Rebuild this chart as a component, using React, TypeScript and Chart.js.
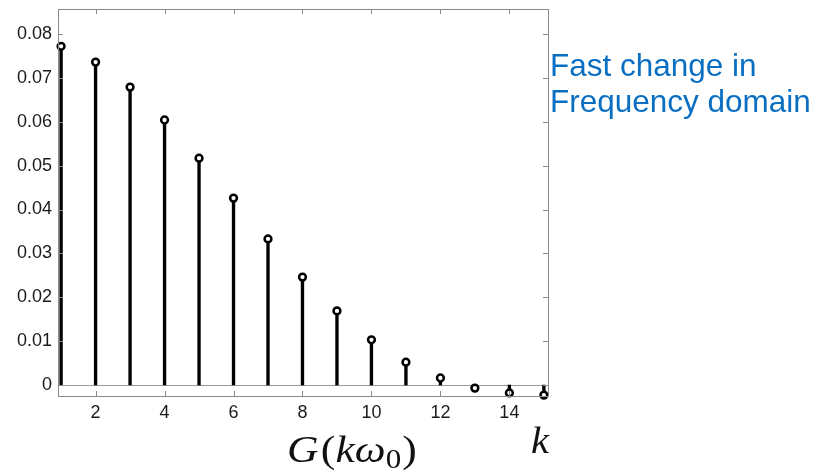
import React, { useEffect, useRef } from "react";
import { Chart, registerables } from "chart.js";

Chart.register(...registerables);

const ks = [1, 2, 3, 4, 5, 6, 7, 8, 9, 10, 11, 12, 13, 14, 15];
const gValues = [0.0772, 0.0736, 0.0679, 0.0604, 0.0517, 0.0426, 0.0333, 0.0246, 0.0169, 0.0103, 0.0052, 0.0016, -0.0007, -0.0018, -0.0023];
const annotationLines = ["Fast change in", "Frequency domain"];
const xLabel = { main: "G", open: "(", vars: "kω", sub: "0", close: ")" };
const kLabel = "k";

export default function App() {
  const ref = useRef<HTMLCanvasElement | null>(null);

  useEffect(() => {
    const canvas = ref.current!;
    const pts = ks.map((k, i) => ({ x: k, y: gValues[i] }));

    const framePlugin = {
      id: "frame",
      beforeDatasetsDraw(chart: any) {
        const { ctx, chartArea: a, scales } = chart;
        const y0 = scales.y.getPixelForValue(0);
        ctx.save();
        ctx.strokeStyle = "#9a9a9a";
        ctx.lineWidth = 1;
        ctx.beginPath();
        ctx.moveTo(a.left, Math.round(y0) + 0.5);
        ctx.lineTo(a.right, Math.round(y0) + 0.5);
        ctx.stroke();
        ctx.restore();
      },
      afterDraw(chart: any) {
        const { ctx, chartArea: a, scales } = chart;
        ctx.save();
        ctx.strokeStyle = "#8a8a8a";
        ctx.lineWidth = 1;
        ctx.strokeRect(Math.round(a.left) + 0.5, Math.round(a.top) + 0.5, Math.round(a.right - a.left), Math.round(a.bottom - a.top));
        const tl = 5;
        ctx.beginPath();
        scales.x.ticks.forEach((t: any) => {
          const px = Math.round(scales.x.getPixelForValue(t.value)) + 0.5;
          ctx.moveTo(px, a.bottom);
          ctx.lineTo(px, a.bottom - tl);
          ctx.moveTo(px, a.top);
          ctx.lineTo(px, a.top + tl);
        });
        scales.y.ticks.forEach((t: any) => {
          const py = Math.round(scales.y.getPixelForValue(t.value)) + 0.5;
          ctx.moveTo(a.left, py);
          ctx.lineTo(a.left + tl, py);
          ctx.moveTo(a.right, py);
          ctx.lineTo(a.right - tl, py);
        });
        ctx.stroke();

        // annotation
        ctx.fillStyle = "#0A6FC2";
        ctx.font = '31.5px "Liberation Sans", Arial, sans-serif';
        ctx.textBaseline = "alphabetic";
        ctx.textAlign = "left";
        ctx.fillText(annotationLines[0], 550, 76);
        ctx.fillText(annotationLines[1], 550, 112);

        // x label G(kω0), slightly widened like the reference rendering
        ctx.fillStyle = "#111";
        const fs = 38;
        const it = `italic ${fs}px "Liberation Serif", serif`;
        const up = `${fs}px "Liberation Serif", serif`;
        const base = 462;
        ctx.save();
        ctx.translate(287, 0);
        ctx.scale(1.15, 1);
        let x = 0;
        ctx.font = it;
        ctx.fillText(xLabel.main, x, base);
        x += ctx.measureText(xLabel.main).width + 2;
        ctx.font = up;
        ctx.fillText(xLabel.open, x, base);
        x += ctx.measureText(xLabel.open).width;
        ctx.font = it;
        ctx.fillText(xLabel.vars, x, base);
        x += ctx.measureText(xLabel.vars).width;
        ctx.font = `${Math.round(fs * 0.7)}px "Liberation Serif", serif`;
        ctx.fillText(xLabel.sub, x, base + 6);
        x += ctx.measureText(xLabel.sub).width + 1;
        ctx.font = up;
        ctx.fillText(xLabel.close, x, base);
        ctx.restore();

        ctx.save();
        ctx.translate(531, 0);
        ctx.scale(1.1, 1);
        ctx.font = `italic 37px "Liberation Serif", serif`;
        ctx.fillText(kLabel, 0, 453);
        ctx.restore();
        ctx.restore();
      },
    };

    const zeroPad = (s: any) => {
      s.paddingTop = 0;
      s.paddingBottom = 0;
      s.paddingLeft = 0;
      s.paddingRight = 0;
    };

    const chart = new Chart(canvas, {
      type: "bar",
      data: {
        datasets: [
          {
            type: "scatter",
            data: pts,
            pointStyle: "circle",
            pointRadius: 3.4,
            pointBorderWidth: 2.5,
            pointBackgroundColor: "#ffffff",
            pointBorderColor: "#000000",
            clip: false,
            order: 0,
          } as any,
          {
            type: "bar",
            data: pts,
            backgroundColor: "#000000",
            barThickness: 2.7,
            order: 1,
          } as any,
        ],
      },
      options: {
        animation: false,
        responsive: false,
        maintainAspectRatio: false,
        layout: { padding: { left: 0, right: 281, top: 9, bottom: 0 } },
        plugins: { legend: { display: false }, tooltip: { enabled: false } },
        scales: {
          x: {
            type: "linear",
            min: 0.91,
            max: 15.12,
            offset: false,
            grid: { display: false, drawTicks: false },
            border: { display: false },
            ticks: {
              stepSize: 2,
              includeBounds: false,
              padding: 6,
              color: "#1a1a1a",
              font: { family: '"Liberation Sans", Arial, sans-serif', size: 18 },
              maxRotation: 0,
              callback: (v: any) => String(v),
            },
            afterFit: (s: any) => {
              s.height = 77;
              zeroPad(s);
            },
          },
          y: {
            type: "linear",
            min: -0.0025,
            max: 0.0857,
            grid: { display: false, drawTicks: false },
            border: { display: false },
            ticks: {
              stepSize: 0.01,
              includeBounds: false,
              padding: 6,
              color: "#1a1a1a",
              font: { family: '"Liberation Sans", Arial, sans-serif', size: 18 },
              callback: (v: any) => String(Math.round(Number(v) * 100) / 100),
            },
            afterFit: (s: any) => {
              s.width = 58;
              zeroPad(s);
            },
          },
        },
      } as any,
      plugins: [framePlugin],
    });
    return () => chart.destroy();
  }, []);

  return (
    <div style={{ position: "fixed", left: 0, top: 0, width: 829, height: 473, background: "#fff" }}>
      <canvas ref={ref} width={829} height={473} style={{ display: "block", width: 829, height: 473 }} />
    </div>
  );
}
